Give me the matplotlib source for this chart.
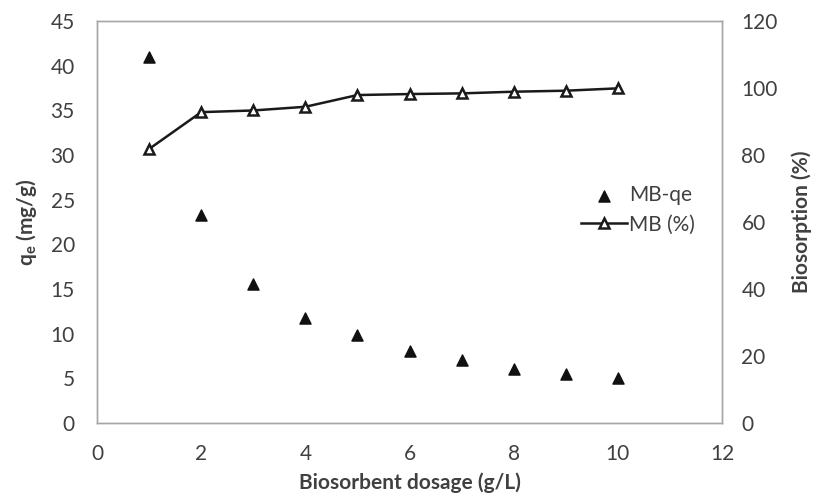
import matplotlib
matplotlib.use("Agg")
import matplotlib.pyplot as plt

# data
dosage = [1, 2, 3, 4, 5, 6, 7, 8, 9, 10]
mb_qe = [41.0, 23.3, 15.6, 11.8, 9.8, 8.1, 7.0, 6.1, 5.5, 5.0]
mb_pct = [81.8, 92.8, 93.3, 94.4, 97.9, 98.2, 98.4, 98.9, 99.2, 99.9]

plt.rcParams["font.family"] = ["Lato", "DejaVu Sans"]
plt.rcParams["mathtext.fontset"] = "custom"
plt.rcParams["mathtext.rm"] = "Lato"
text_col = "#404040"
spine_col = "#a6a6a6"

fig = plt.figure(figsize=(8.16, 4.97), dpi=100)
ax = fig.add_axes([0.1189, 0.1489, 0.7659, 0.8088])
ax2 = ax.twinx()

sc = ax.scatter(dosage, mb_qe, marker="^", s=64, color="#111111", zorder=3,
                label="MB-qe")
ln, = ax2.plot(dosage, mb_pct, color="#1a1a1a", lw=1.8, marker="^", ms=7,
               mfc="white", mec="#1a1a1a", mew=1.8, label="MB (%)")

ax.set_xlim(0, 12)
ax.set_ylim(0, 45)
ax2.set_ylim(0, 120)
ax.set_xticks(range(0, 13, 2))
ax.set_yticks(range(0, 46, 5))
ax2.set_yticks(range(0, 121, 20))

for a in (ax, ax2):
    for s in a.spines.values():
        s.set_color(spine_col)
        s.set_linewidth(1.0)
    a.tick_params(length=0, labelsize=15, colors=text_col)
ax.tick_params(axis="y", pad=16)
ax.tick_params(axis="x", pad=15)
ax2.tick_params(axis="y", pad=14)

ax.set_xlabel("Biosorbent dosage (g/L)", fontsize=15, fontweight="bold",
              color=text_col, labelpad=6)
ax.set_ylabel(r"q$_{\mathregular{e}}$ (mg/g)", fontsize=15, fontweight="bold",
              color=text_col, labelpad=8)
ax2.set_ylabel("Biosorption (%)", fontsize=15, fontweight="bold",
               color=text_col, labelpad=10)

leg = ax.legend([sc, ln], ["MB-qe", "MB (%)"], loc="center left",
                bbox_to_anchor=(0.745, 0.53), frameon=False, fontsize=15,
                handlelength=2.2, handletextpad=0.1, labelspacing=0.45,
                scatterpoints=1)
for t in leg.get_texts():
    t.set_color(text_col)

fig.savefig("out.png", dpi=100)
